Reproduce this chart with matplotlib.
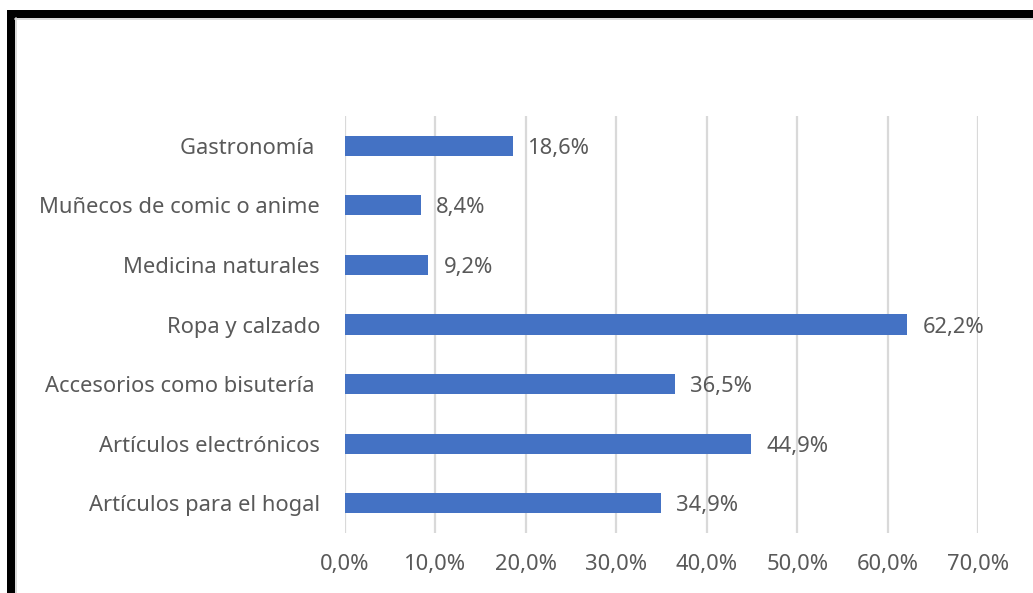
import matplotlib
matplotlib.use("Agg")
import matplotlib.pyplot as plt
from matplotlib.lines import Line2D

categories = [
    "Gastronomía ",
    "Muñecos de comic o anime",
    "Medicina naturales",
    "Ropa y calzado",
    "Accesorios como bisutería ",
    "Artículos electrónicos",
    "Artículos para el hogal",
]
values = [18.6, 8.4, 9.2, 62.2, 36.5, 44.9, 34.9]
xticks = [0, 10, 20, 30, 40, 50, 60, 70]

W, H, DPI = 1033, 593, 100
plt.rcParams["font.family"] = ["Noto Sans", "DejaVu Sans"]
text_color = "#595959"
fs = 15.8

fig = plt.figure(figsize=(W / DPI, H / DPI), dpi=DPI)
ax = fig.add_axes([345 / W, (H - 533) / H, (978 - 345) / W, (533 - 116) / H])

ypos = list(range(len(categories)))[::-1]
ax.barh(ypos, values, height=0.34, color="#4472C4", zorder=3)
for y, v in zip(ypos, values):
    ax.annotate(f"{v:.1f}%".replace(".", ","), (v, y), xytext=(11, 0),
                textcoords="offset points", va="center_baseline", ha="left",
                fontsize=fs, color=text_color)

ax.set_xlim(0, 70)
ax.set_ylim(-0.5, len(categories) - 0.5)
ax.set_xticks(xticks)
ax.set_xticklabels([f"{t:.1f}%".replace(".", ",") for t in xticks])
ax.set_yticks(ypos)
ax.set_yticklabels(categories)
ax.tick_params(axis="both", length=0, labelsize=fs, labelcolor=text_color)
ax.tick_params(axis="y", pad=18)
ax.tick_params(axis="x", pad=15)
ax.grid(axis="x", color="#d9d9d9", linewidth=1.6, zorder=0)
for s in ax.spines.values():
    s.set_visible(False)

# frame lines along top and left edges
def px(x, y):
    return x / W, 1 - y / H

fig.add_artist(Line2D([px(7, 0)[0], 1], [px(0, 14)[1]] * 2, color="black",
                      linewidth=8 * 72 / DPI, solid_capstyle="butt"))
fig.add_artist(Line2D([px(11, 0)[0]] * 2, [px(0, 10)[1], 0], color="black",
                      linewidth=8 * 72 / DPI, solid_capstyle="butt"))
fig.add_artist(Line2D([px(15, 0)[0], 1], [px(0, 19)[1]] * 2, color="#d0d0d0",
                      linewidth=1.5 * 72 / DPI))
fig.add_artist(Line2D([px(16, 0)[0]] * 2, [px(0, 18)[1], 0], color="#d0d0d0",
                      linewidth=1.5 * 72 / DPI))

fig.savefig("out.png", dpi=DPI, facecolor="white")
